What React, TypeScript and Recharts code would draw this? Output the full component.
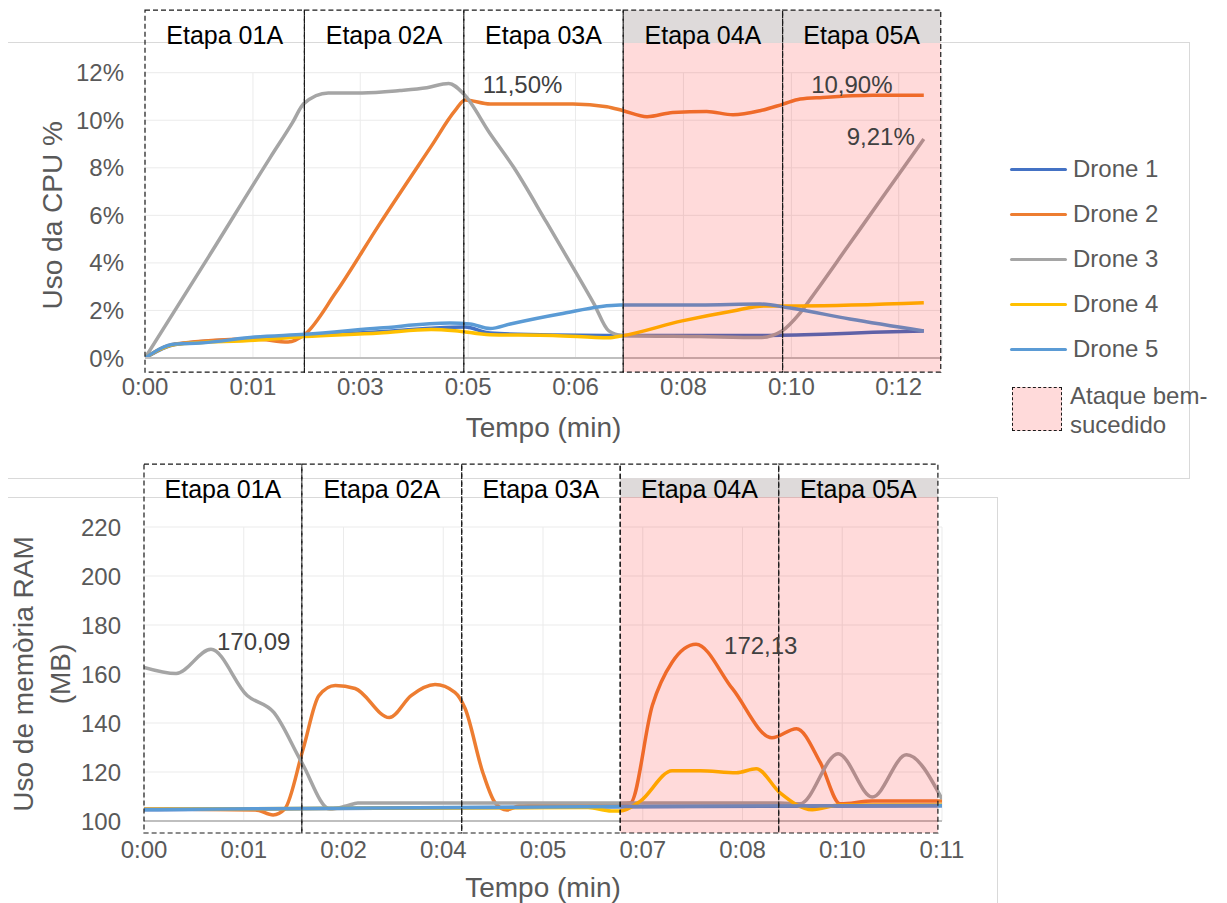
import React from 'react';
import { LineChart, Line, XAxis, YAxis, CartesianGrid, ReferenceArea, LabelList } from 'recharts';

const FONT = '"Liberation Sans", Arial, Helvetica, sans-serif';

// ---------- shared ----------
const droneNames = ['Drone 1', 'Drone 2', 'Drone 3', 'Drone 4', 'Drone 5'];
const droneColors = ['#4472c4', '#ed7d31', '#a5a5a5', '#ffc000', '#5b9bd5'];
const stageNames = ['Etapa 01A', 'Etapa 02A', 'Etapa 03A', 'Etapa 04A', 'Etapa 05A'];
const attackStages = [3, 4];
const attackLabel = ['Ataque bem-', 'sucedido'];

// ---------- CPU chart (minutes / %) ----------
const cpuXMax = 12.7;
const cpuTicks = [0, 1.72, 3.43, 5.15, 6.86, 8.58, 10.3, 12.01];
const cpuTickLabels = ['0:00', '0:01', '0:03', '0:05', '0:06', '0:08', '0:10', '0:12'];
const cpuYTicks = [0, 2, 4, 6, 8, 10, 12];
const cpuStageEdges = [0, 2.54, 5.08, 7.62, 10.16, 12.68];
const cpuBoxY = [-0.59, 14.63];
const cpuBandY = [13.26, 14.63];

const cpuD1T = [0, 0.48, 1.75, 2.55, 3.74, 4.56, 5.1, 5.5, 6.5, 7.6, 8.84, 9.8, 10.8, 11.6, 12.41];
const cpuD1V = [0, 0.57, 0.82, 0.95, 1.1, 1.25, 1.3, 1.05, 0.97, 0.95, 0.95, 0.95, 1.0, 1.08, 1.14];
const cpuD2T = [0, 0.48, 1.75, 2.28, 2.55, 3.04, 3.73, 4.56, 4.94, 5.1, 5.5, 6.82, 7.36, 7.62, 8.0, 8.41, 8.95, 9.37, 9.8, 10.17, 10.44, 10.8, 11.6, 12.41];
const cpuD2V = [0, 0.59, 0.8, 0.67, 1.0, 2.75, 5.6, 8.9, 10.4, 10.85, 10.68, 10.68, 10.57, 10.4, 10.15, 10.33, 10.37, 10.23, 10.4, 10.68, 10.89, 10.96, 11.05, 11.05];
const cpuD3T = [0, 1.0, 2.0, 2.35, 2.53, 2.92, 3.46, 4.06, 4.49, 4.84, 5.08, 5.5, 5.88, 6.4, 6.88, 7.15, 7.39, 7.6, 8.84, 9.8, 10.15, 10.44, 10.69, 11.2, 11.71, 12.41];
const cpuD3V = [0, 4.2, 8.45, 9.9, 10.7, 11.15, 11.15, 11.25, 11.37, 11.55, 11.1, 9.43, 8.0, 5.7, 3.54, 2.3, 1.14, 0.95, 0.9, 0.86, 1.14, 1.9, 2.8, 4.7, 6.6, 9.21];
const cpuD4T = [0, 0.48, 1.75, 2.55, 3.74, 4.56, 4.94, 5.5, 6.5, 7.39, 7.6, 8.56, 9.37, 9.87, 10.44, 12.41];
const cpuD4V = [0, 0.57, 0.75, 0.9, 1.05, 1.2, 1.15, 0.98, 0.95, 0.85, 0.93, 1.56, 1.98, 2.19, 2.19, 2.32];
const cpuD5T = [0, 0.48, 0.88, 1.75, 2.55, 3.74, 4.86, 5.18, 5.5, 5.82, 6.61, 7.57, 8.84, 9.8, 10.28, 11.23, 12.41];
const cpuD5V = [0, 0.59, 0.63, 0.88, 1.0, 1.26, 1.47, 1.43, 1.24, 1.43, 1.85, 2.23, 2.23, 2.27, 2.1, 1.64, 1.14];

const cpuAnnots = [
  { series: 2, index: 9, text: '11,50%', dx: 34, dy: 10, anchor: 'start' },
  { series: 1, index: 20, text: '10,90%', dx: 11, dy: -6, anchor: 'start' },
  { series: 2, index: 25, text: '9,21%', dx: -9, dy: 6, anchor: 'end' },
];

// ---------- RAM chart (minutes / MB) ----------
const ramXMax = 11.68;
const ramTicks = [0, 1.46, 2.92, 4.38, 5.84, 7.3, 8.76, 10.22, 11.68];
const ramTickLabels = ['0:00', '0:01', '0:02', '0:04', '0:05', '0:07', '0:08', '0:10', '0:11'];
const ramYTicks = [100, 120, 140, 160, 180, 200, 220];
const ramStageEdges = [0, 2.31, 4.65, 6.97, 9.29, 11.62];
const ramBoxY = [95.1, 245.7];
const ramBandY = [232.2, 240.0];

const ramD1T = [0, 4, 7, 11.68];
const ramD1V = [104.6, 105.3, 105.8, 106.2];
const ramD2T = [0, 1.63, 1.89, 2.06, 2.33, 2.56, 2.8, 3.09, 3.59, 3.91, 4.26, 4.55, 4.7, 4.96, 5.14, 5.31, 5.49, 6.98, 7.12, 7.44, 7.73, 8.08, 8.61, 9.19, 9.55, 9.9, 10.19, 10.66, 11.68];
const ramD2V = [104.9, 104.5, 102.5, 104.9, 129.5, 151.2, 155.3, 154.1, 142.2, 151.2, 155.7, 152.5, 145.9, 119.7, 107.4, 104.5, 106.1, 107, 107.4, 147.1, 164.8, 172.13, 154.1, 134, 137.7, 123.8, 107, 108.2, 108.2];
const ramD3T = [0, 0.47, 0.98, 1.51, 1.9, 2.31, 2.72, 2.96, 3.13, 5.0, 7.0, 9.31, 9.6, 10.16, 10.66, 11.16, 11.68];
const ramD3V = [162.7, 160.2, 170.09, 151.2, 144.3, 123.8, 104.9, 106.1, 107.3, 107.3, 107.3, 107.3, 107, 127.5, 109.8, 127, 109];
const ramD4T = [0, 3.0, 6.5, 6.84, 6.97, 7.26, 7.73, 8.14, 8.67, 8.96, 9.31, 9.78, 10.19, 11.68];
const ramD4V = [104.8, 105.2, 105.5, 104.1, 104.1, 108, 120.5, 120.5, 119.7, 121.3, 111.5, 104.6, 106.5, 106.5];
const ramD5T = [0, 4, 7, 11.68];
const ramD5V = [104.7, 105.4, 105.9, 106.3];

const ramAnnots = [
  { series: 2, index: 2, text: '170,09', dx: 6, dy: 1, anchor: 'start' },
  { series: 1, index: 21, text: '172,13', dx: 28, dy: 10, anchor: 'start' },
];

// ---------- helpers ----------
type Pt = { t: number; v: number };
const pts = (t: number[], v: number[]): Pt[] => t.map((x, i) => ({ t: x, v: v[i] }));

const cpuSeries = [pts(cpuD1T, cpuD1V), pts(cpuD2T, cpuD2V), pts(cpuD3T, cpuD3V), pts(cpuD4T, cpuD4V), pts(cpuD5T, cpuD5V)];
const ramSeries = [pts(ramD1T, ramD1V), pts(ramD2T, ramD2V), pts(ramD3T, ramD3V), pts(ramD4T, ramD4V), pts(ramD5T, ramD5V)];

const TICK_STYLE = { fontSize: 24, fill: '#595959', fontFamily: FONT };

function makeAnnotContent(annots: any[]) {
  return (props: any) => {
    const a = annots.find((q) => q.index === props.index);
    if (!a) return null;
    const vb = props.viewBox || {};
    const x = typeof props.x === 'number' ? props.x : (vb.x ?? 0) + (vb.width ?? 0) / 2;
    const y = typeof props.y === 'number' ? props.y : (vb.y ?? 0) + (vb.height ?? 0) / 2;
    return (
      <text x={x + a.dx} y={y + a.dy} textAnchor={a.anchor} fontSize={24} fill="#404040" fontFamily={FONT}>
        {a.text}
      </text>
    );
  };
}

function StageBox(props: any) {
  const { x, y, width, height, label } = props;
  return (
    <g>
      <rect x={x} y={y} width={width} height={height} fill="none" stroke="#1a1a1a" strokeWidth={1.2} strokeDasharray="5 3" />
      <text x={x + width / 2} y={y + 34} textAnchor="middle" fontSize={25} fill="#000" fontFamily={FONT}>
        {label}
      </text>
    </g>
  );
}

function xTitle(offset: number) {
  return (props: any) => {
    const vb = props.viewBox || {};
    return (
      <text x={vb.x + vb.width / 2} y={vb.y + vb.height + offset} textAnchor="middle" fontSize={28} fill="#595959" fontFamily={FONT}>
        Tempo (min)
      </text>
    );
  };
}

function yTitle(lines: string[], baselines: number[]) {
  return (props: any) => {
    const vb = props.viewBox || {};
    const cy = vb.y + vb.height / 2;
    return (
      <text transform="rotate(-90)" textAnchor="middle" fontSize={28} fill="#595959" fontFamily={FONT}>
        {lines.map((l, i) => (
          <tspan key={i} x={-cy} y={vb.x + baselines[i]}>
            {l}
          </tspan>
        ))}
      </text>
    );
  };
}

interface PanelProps {
  series: Pt[][];
  xMax: number;
  xTicks: number[];
  xLabels: string[];
  yDomain: [number, number];
  yTicks: number[];
  yFmt: (v: number) => string;
  stageEdges: number[];
  boxY: number[];
  bandY: number[];
  annots: any[];
  width: number;
  height: number;
  margin: any;
  yAxisWidth: number;
  yTickMargin: number;
  xTitleOffset: number;
  yTitleLines: string[];
  yTitleBaselines: number[];
}

function Panel(p: PanelProps) {
  return (
    <LineChart width={p.width} height={p.height} margin={p.margin}>
      <CartesianGrid stroke="#ebebeb" strokeWidth={1} />
      <XAxis
        type="number"
        dataKey="t"
        domain={[0, p.xMax]}
        ticks={p.xTicks}
        interval={0}
        allowDataOverflow
        tickFormatter={(v: number) => p.xLabels[p.xTicks.indexOf(v)] ?? ''}
        height={40}
        tickLine={false}
        tickSize={0}
        tickMargin={20}
        axisLine={{ stroke: '#bfbfbf', strokeWidth: 2 }}
        tick={TICK_STYLE}
        label={xTitle(p.xTitleOffset)}
      />
      <YAxis
        type="number"
        domain={p.yDomain}
        ticks={p.yTicks}
        interval={0}
        allowDataOverflow
        tickFormatter={p.yFmt}
        width={p.yAxisWidth}
        tickLine={false}
        tickSize={0}
        tickMargin={p.yTickMargin}
        axisLine={false}
        tick={TICK_STYLE}
        label={yTitle(p.yTitleLines, p.yTitleBaselines)}
      />
      {p.series.map((data, i) => {
        const ann = p.annots.filter((a) => a.series === i);
        return (
          <Line
            key={droneNames[i]}
            data={data}
            dataKey="v"
            name={droneNames[i]}
            type="monotone"
            stroke={droneColors[i]}
            strokeWidth={3.5}
            dot={false}
            activeDot={false}
            isAnimationActive={false}
          >
            {ann.length > 0 && <LabelList dataKey="v" content={makeAnnotContent(ann)} />}
          </Line>
        );
      })}
      <ReferenceArea
        x1={p.stageEdges[attackStages[0]]}
        x2={p.stageEdges[attackStages[attackStages.length - 1] + 1]}
        y1={p.boxY[0]}
        y2={p.bandY[0]}
        fill="#ff0000"
        fillOpacity={0.145}
        stroke="none"
        ifOverflow="visible"
        zIndex={1500}
      />
      <ReferenceArea
        x1={p.stageEdges[attackStages[0]]}
        x2={p.stageEdges[attackStages[attackStages.length - 1] + 1]}
        y1={p.bandY[0]}
        y2={p.bandY[1]}
        fill="#dedada"
        fillOpacity={1}
        stroke="none"
        ifOverflow="visible"
        zIndex={1510}
      />
      {stageNames.map((name, i) => (
        <ReferenceArea
          key={name}
          x1={p.stageEdges[i]}
          x2={p.stageEdges[i + 1]}
          y1={p.boxY[0]}
          y2={p.boxY[1]}
          ifOverflow="visible"
          zIndex={1520}
          shape={(sp: any) => <StageBox {...sp} label={name} />}
        />
      ))}
    </LineChart>
  );
}

function LegendBox() {
  const rowY = [169, 214, 259, 304, 349];
  return (
    <div style={{ position: 'absolute', left: 0, top: 0, width: 1227, height: 903, pointerEvents: 'none' }}>
      {droneNames.map((n, i) => (
        <div key={n}>
          <div
            style={{
              position: 'absolute',
              left: 1010,
              top: rowY[i] - 1.5,
              width: 57,
              height: 3,
              borderRadius: 2,
              background: droneColors[i],
            }}
          />
          <div
            style={{
              position: 'absolute',
              left: 1073,
              top: rowY[i] - 15,
              fontSize: 24,
              lineHeight: '30px',
              color: '#595959',
              fontFamily: FONT,
              whiteSpace: 'nowrap',
            }}
          >
            {n}
          </div>
        </div>
      ))}
      <div
        style={{
          position: 'absolute',
          left: 1012,
          top: 387,
          width: 50,
          height: 44,
          boxSizing: 'border-box',
          border: '1px dashed #1a1a1a',
          background: '#ffdada',
        }}
      />
      <div
        style={{
          position: 'absolute',
          left: 1070,
          top: 381,
          fontSize: 24,
          lineHeight: '29px',
          color: '#595959',
          fontFamily: FONT,
          whiteSpace: 'nowrap',
        }}
      >
        {attackLabel.map((l) => (
          <div key={l}>{l}</div>
        ))}
      </div>
    </div>
  );
}

export default function App() {
  return (
    <div
      style={{
        position: 'absolute',
        left: 0,
        top: 0,
        width: 1227,
        height: 903,
        background: '#ffffff',
        overflow: 'hidden',
        fontFamily: FONT,
      }}
    >
      {/* chart-area frames */}
      <div
        style={{
          position: 'absolute',
          left: 8,
          top: 42,
          width: 1182,
          height: 437,
          boxSizing: 'border-box',
          borderTop: '1px solid #d9d9d9',
          borderRight: '1px solid #d9d9d9',
          borderBottom: '1px solid #d9d9d9',
        }}
      />
      <div
        style={{
          position: 'absolute',
          left: 8,
          top: 497,
          width: 990,
          height: 420,
          boxSizing: 'border-box',
          borderTop: '1px solid #d9d9d9',
          borderRight: '1px solid #d9d9d9',
        }}
      />
      <div style={{ position: 'absolute', left: 0, top: 0 }}>
        <Panel
          series={cpuSeries}
          xMax={cpuXMax}
          xTicks={cpuTicks}
          xLabels={cpuTickLabels}
          yDomain={[0, 12]}
          yTicks={cpuYTicks}
          yFmt={(v) => `${v}%`}
          stageEdges={cpuStageEdges}
          boxY={cpuBoxY}
          bandY={cpuBandY}
          annots={cpuAnnots}
          width={1000}
          height={480}
          margin={{ top: 72.7, right: 58, bottom: 82, left: 0 }}
          yAxisWidth={145}
          yTickMargin={21}
          xTitleOffset={39}
          yTitleLines={['Uso da CPU %']}
          yTitleBaselines={[62]}
        />
      </div>
      <div style={{ position: 'absolute', left: 0, top: 440 }}>
        <Panel
          series={ramSeries}
          xMax={ramXMax}
          xTicks={ramTicks}
          xLabels={ramTickLabels}
          yDomain={[100, 220]}
          yTicks={ramYTicks}
          yFmt={(v) => `${v}`}
          stageEdges={ramStageEdges}
          boxY={ramBoxY}
          bandY={ramBandY}
          annots={ramAnnots}
          width={1000}
          height={463}
          margin={{ top: 87, right: 58, bottom: 42, left: 0 }}
          yAxisWidth={144}
          yTickMargin={23}
          xTitleOffset={36}
          yTitleLines={['Uso de memòria RAM', '(MB)']}
          yTitleBaselines={[33, 70]}
        />
      </div>
      <LegendBox />
    </div>
  );
}
